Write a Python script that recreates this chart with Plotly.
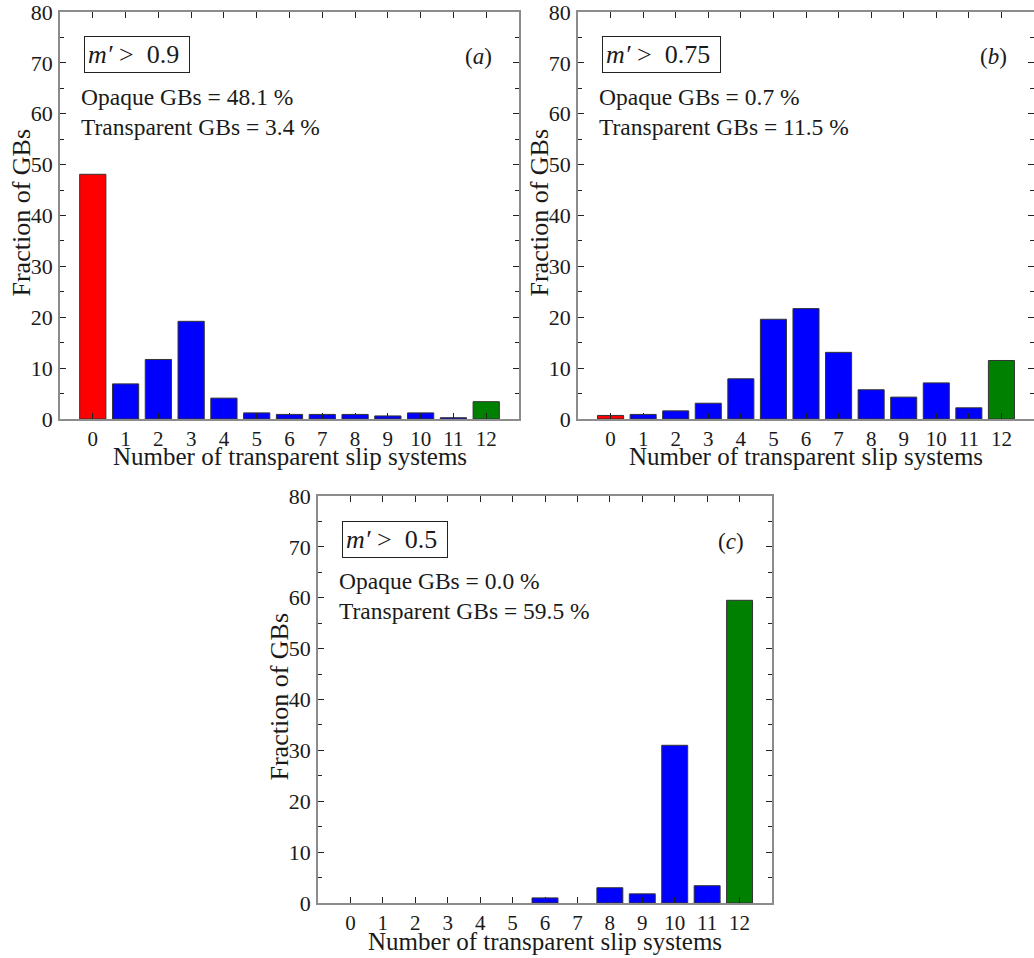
import plotly.graph_objects as go

# ---- data ----
slip_systems = list(range(13))
tick_labels = [str(i) for i in slip_systems]
frac_a = [48.1, 6.9, 11.7, 19.2, 4.1, 1.2, 0.9, 0.9, 0.9, 0.6, 1.2, 0.25, 3.4]
frac_b = [0.7, 0.9, 1.6, 3.1, 7.9, 19.6, 21.7, 13.1, 5.75, 4.3, 7.1, 2.2, 11.5]
frac_c = [0.0, 0.0, 0.0, 0.0, 0.0, 0.0, 1.0, 0.0, 3.0, 1.8, 31.0, 3.4, 59.5]
thresholds = ["0.9", "0.75", "0.5"]
opaque = ["48.1", "0.7", "0.0"]
transparent = ["3.4", "11.5", "59.5"]
panel_tags = ["a", "b", "c"]

W, H = 1034, 958
FONT = "Liberation Serif"
TXT = "#1a1a1a"

# panel boxes in pixels: (left, right, top, bottom)
boxes = [(60, 519, 12, 419), (578, 1034, 12, 419), (318, 772, 496, 903)]


def px(x):
    return x / W


def py(y):
    return 1 - y / H


def bar_colors(n):
    cols = ["#0000ff"] * n
    cols[0] = "#ff0000"
    cols[-1] = "#008000"
    return cols


fig = go.Figure()
annotations = []
datasets = [frac_a, frac_b, frac_c]

for i, (vals, (l, r, t, b)) in enumerate(zip(datasets, boxes)):
    k = "" if i == 0 else str(i + 1)
    fig.add_trace(go.Bar(
        x=slip_systems, y=vals, width=0.8,
        marker=dict(color=bar_colors(len(vals)),
                    line=dict(color="#333333", width=[1 if v > 0 else 0 for v in vals])),
        xaxis="x" + k, yaxis="y" + k, showlegend=False,
    ))
    axis_common = dict(
        showline=True, linecolor="#8c8c8c", linewidth=1.5, mirror="allticks",
        ticks="inside", tickcolor="#222222", tickwidth=1.2,
        showgrid=False, zeroline=False, automargin=False,
        ticklabeloverflow="allow",
    )
    fig.update_layout(**{
        "xaxis" + k: dict(
            domain=[px(l), px(r)], anchor="y" + k, range=[-1, 13],
            tickmode="array", tickvals=slip_systems, ticktext=tick_labels,
            ticklen=6, ticklabelstandoff=0,
            tickfont=dict(family=FONT, size=21, color=TXT), **axis_common),
        "yaxis" + k: dict(
            domain=[py(b), py(t)], anchor="x" + k, range=[0, 80],
            dtick=10, ticklen=6, ticklabelstandoff=1,
            tickfont=dict(family=FONT, size=22, color=TXT),
            minor=dict(dtick=5, ticks="inside", ticklen=4, tickcolor="#222222"),
            **axis_common),
    })
    # threshold box
    annotations.append(dict(
        x=px(l + 24), y=py(t + 43), xref="paper", yref="paper",
        xanchor="left", yanchor="middle", showarrow=False,
        text="<i>m′</i> &gt;  " + thresholds[i] + " ",
        font=dict(family=FONT, size=26, color=TXT),
        bordercolor="#222222", borderwidth=1, borderpad=3,
    ))
    annotations.append(dict(
        x=px(l + 19), y=py(t + 85), xref="paper", yref="paper",
        xanchor="left", yanchor="middle", showarrow=False,
        text="Opaque GBs = " + opaque[i] + " %",
        font=dict(family=FONT, size=23.5, color=TXT),
    ))
    annotations.append(dict(
        x=px(l + 19), y=py(t + 115), xref="paper", yref="paper",
        xanchor="left", yanchor="middle", showarrow=False,
        text="Transparent GBs = " + transparent[i] + " %",
        font=dict(family=FONT, size=23.5, color=TXT),
    ))
    annotations.append(dict(
        x=px(r - 41), y=py(t + 45), xref="paper", yref="paper",
        xanchor="center", yanchor="middle", showarrow=False,
        text="(<i>" + panel_tags[i] + "</i>)",
        font=dict(family=FONT, size=23, color=TXT),
    ))
    # axis titles
    annotations.append(dict(
        x=px((l + r) / 2), y=py(b + 38), xref="paper", yref="paper",
        xanchor="center", yanchor="middle", showarrow=False,
        text="Number of transparent slip systems",
        font=dict(family=FONT, size=25, color=TXT),
    ))
    annotations.append(dict(
        x=px(l - 39), y=py((t + b) / 2 - 3), xref="paper", yref="paper",
        xanchor="center", yanchor="middle", showarrow=False, textangle=-90,
        text="Fraction of GBs",
        font=dict(family=FONT, size=26, color=TXT),
    ))

fig.update_layout(
    width=W, height=H, autosize=False,
    margin=dict(l=0, r=0, t=0, b=0, pad=0),
    paper_bgcolor="white", plot_bgcolor="white",
    annotations=annotations, bargap=0.2,
)

fig.write_html(
    "out.html",
    config={"displayModeBar": False},
    post_script="document.body.style.margin='0';document.body.style.overflow='hidden';",
)
